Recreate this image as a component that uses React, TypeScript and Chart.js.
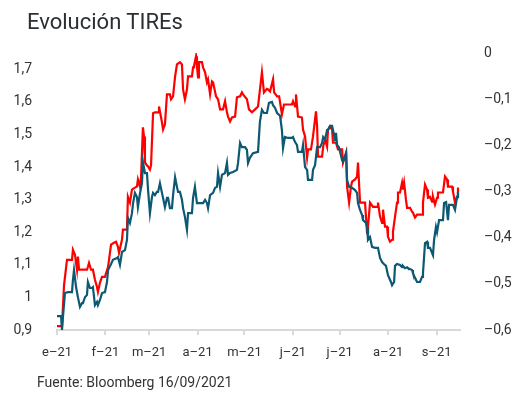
import React, { useEffect, useRef } from "react";
import { Chart, registerables } from "chart.js";

Chart.register(...registerables);

const monthStarts = [0, 31, 59, 90, 120, 151, 181, 212, 243];
const monthLabels = ["e–21", "f–21", "m–21", "a–21", "m–21", "j–21", "j–21", "a–21", "s–21"];
const leftTicks = [0.9, 1.0, 1.1, 1.2, 1.3, 1.4, 1.5, 1.6, 1.7];
const rightTicks = [-0.6, -0.5, -0.4, -0.3, -0.2, -0.1, 0];

// US 10y (left axis), day of year 2021
const redDays = [0,3.2,4.5,6.4,9.6,10.2,11.5,12.8,13.4,14.1,19.2,19.8,20.5,21.8,23.0,24.3,25.6,26.2,27.5,28.8,30.7,32.7,34.6,36.5,37.8,39.0,39.7,41.6,42.2,44.8,45.4,46.7,48.0,49.9,51.2,51.8,53.1,53.8,55.0,55.7,56.3,57.6,58.3,59.5,60.2,61.5,62.7,64.7,65.3,67.2,67.9,69.1,70.4,72.3,73.0,74.3,75.6,76.8,78.7,80.0,80.7,81.9,83.2,83.9,86.4,87.1,87.7,89.0,89.6,90.3,90.9,92.8,93.5,94.8,96.0,96.7,98.0,99.2,99.9,101.8,103.1,104.4,106.3,107.6,108.8,109.5,110.8,112.0,114.0,115.2,117.2,118.4,119.1,121.6,122.9,124.8,126.8,128.7,131.2,132.5,134.4,135.1,136.4,138.3,139.0,140.9,142.2,144.0,145.3,147.2,150.4,151.1,152.4,153.0,154.3,156.8,157.5,158.8,160.1,160.7,162.6,163.9,164.5,165.8,166.5,167.1,169.7,170.4,171.6,172.9,173.5,174.8,176.1,176.7,178.6,179.9,182.5,183.1,185.1,185.7,187.0,188.2,188.9,190.8,192.1,192.7,194.0,197.2,198.5,199.1,200.4,202.3,204.9,205.5,206.8,208.1,208.7,210.0,211.3,211.9,213.2,214.5,215.1,216.4,217.7,218.3,219.6,220.9,221.5,222.2,223.4,224.1,226.0,227.3,227.9,229.2,230.5,233.7,234.3,235.6,236.9,237.5,238.8,240.1,240.7,242.0,243.3,243.9,247.1,248.4,249.7,250.3,252.9,253.5,254.8,256.1,256.7];
const redValues = [0.912,0.912,1.038,1.115,1.115,1.146,1.131,1.085,1.125,1.085,1.085,1.094,1.106,1.085,1.085,1.054,1.032,1.017,1.045,1.063,1.063,1.094,1.162,1.168,1.171,1.155,1.137,1.177,1.208,1.208,1.309,1.291,1.331,1.337,1.340,1.362,1.340,1.368,1.522,1.494,1.414,1.405,1.402,1.392,1.405,1.565,1.568,1.568,1.586,1.537,1.515,1.531,1.623,1.623,1.608,1.617,1.678,1.715,1.722,1.715,1.638,1.608,1.638,1.678,1.678,1.706,1.709,1.740,1.709,1.675,1.722,1.722,1.706,1.691,1.660,1.669,1.623,1.663,1.660,1.617,1.608,1.577,1.577,1.602,1.568,1.555,1.540,1.552,1.555,1.614,1.617,1.629,1.623,1.608,1.577,1.568,1.577,1.586,1.691,1.629,1.640,1.638,1.632,1.669,1.629,1.617,1.617,1.562,1.592,1.592,1.592,1.602,1.586,1.623,1.555,1.552,1.515,1.494,1.429,1.454,1.454,1.494,1.494,1.571,1.525,1.432,1.432,1.463,1.485,1.463,1.515,1.525,1.515,1.475,1.475,1.454,1.454,1.414,1.445,1.340,1.291,1.340,1.355,1.362,1.371,1.414,1.291,1.291,1.198,1.217,1.291,1.278,1.278,1.291,1.248,1.229,1.269,1.217,1.217,1.186,1.171,1.177,1.202,1.248,1.291,1.322,1.322,1.352,1.331,1.352,1.300,1.275,1.275,1.263,1.260,1.245,1.254,1.254,1.291,1.346,1.331,1.306,1.309,1.294,1.309,1.285,1.306,1.322,1.322,1.371,1.362,1.340,1.340,1.325,1.291,1.309,1.337];

// Bund 10y (right axis)
const blueDays = [0,2.6,3.2,3.8,5.1,7.0,9.6,10.2,10.9,12.2,13.4,14.7,16.0,16.6,17.9,19.2,19.8,21.1,22.4,23.0,24.3,25.6,26.2,27.5,28.8,30.7,32.0,32.7,34.6,35.8,38.4,39.0,40.3,41.6,43.5,44.8,45.4,46.7,48.0,48.7,49.9,51.2,51.8,53.1,54.4,55.0,56.3,57.6,58.3,59.5,60.8,61.5,62.7,64.0,64.7,65.9,67.2,67.9,69.1,70.4,71.1,72.3,73.6,74.3,75.6,76.8,77.5,78.7,80.0,80.7,81.9,83.2,83.9,86.4,87.1,88.3,89.6,93.5,94.8,96.0,96.7,98.0,99.9,101.2,102.4,103.1,104.4,105.6,107.6,108.8,109.5,110.8,112.7,115.2,115.9,117.2,118.4,120.4,121.6,122.3,123.5,125.5,128.7,129.9,131.2,132.5,134.4,135.7,137.6,138.3,139.6,140.9,142.8,144.0,144.7,145.9,147.9,150.4,151.1,152.4,153.6,154.3,156.8,157.5,158.8,160.1,160.7,163.3,163.9,165.2,166.5,168.4,169.7,170.4,171.6,172.9,173.5,174.8,176.1,176.7,178.0,178.6,179.3,180.5,182.5,183.1,184.4,185.1,185.7,187.0,188.9,190.8,192.1,192.7,194.0,195.3,195.9,197.8,198.5,199.1,200.4,201.7,203.6,205.5,206.8,208.1,209.3,210.6,211.9,213.8,214.5,215.8,216.4,217.7,219.6,220.9,221.5,222.8,224.1,224.7,227.3,227.9,229.2,230.5,232.4,233.7,234.3,235.6,236.9,237.5,238.8,240.7,241.4,242.6,243.3,244.6,247.1,247.8,249.1,250.3,251.0,253.5,254.8,256.1,256.7];
const blueValues = [-0.570,-0.570,-0.600,-0.572,-0.520,-0.518,-0.518,-0.492,-0.470,-0.507,-0.529,-0.550,-0.542,-0.542,-0.529,-0.524,-0.496,-0.509,-0.509,-0.507,-0.546,-0.539,-0.546,-0.535,-0.520,-0.518,-0.496,-0.470,-0.457,-0.448,-0.444,-0.442,-0.459,-0.431,-0.427,-0.405,-0.357,-0.368,-0.347,-0.325,-0.303,-0.312,-0.334,-0.305,-0.282,-0.236,-0.260,-0.260,-0.297,-0.347,-0.312,-0.303,-0.308,-0.301,-0.301,-0.282,-0.303,-0.314,-0.334,-0.314,-0.314,-0.336,-0.336,-0.308,-0.269,-0.290,-0.301,-0.301,-0.318,-0.336,-0.355,-0.383,-0.347,-0.347,-0.314,-0.290,-0.325,-0.325,-0.318,-0.325,-0.336,-0.308,-0.303,-0.292,-0.290,-0.260,-0.290,-0.264,-0.260,-0.238,-0.264,-0.260,-0.258,-0.253,-0.238,-0.195,-0.204,-0.204,-0.210,-0.238,-0.227,-0.217,-0.214,-0.149,-0.123,-0.130,-0.130,-0.108,-0.106,-0.113,-0.119,-0.130,-0.136,-0.167,-0.206,-0.182,-0.184,-0.184,-0.182,-0.193,-0.199,-0.214,-0.214,-0.199,-0.247,-0.253,-0.275,-0.275,-0.253,-0.243,-0.204,-0.204,-0.195,-0.182,-0.188,-0.167,-0.167,-0.158,-0.158,-0.167,-0.188,-0.173,-0.199,-0.204,-0.232,-0.236,-0.225,-0.217,-0.275,-0.290,-0.292,-0.297,-0.303,-0.325,-0.340,-0.351,-0.362,-0.368,-0.377,-0.405,-0.399,-0.420,-0.422,-0.422,-0.444,-0.453,-0.457,-0.461,-0.481,-0.496,-0.503,-0.496,-0.461,-0.457,-0.459,-0.464,-0.461,-0.466,-0.464,-0.466,-0.470,-0.477,-0.487,-0.496,-0.496,-0.485,-0.477,-0.412,-0.409,-0.422,-0.422,-0.438,-0.405,-0.377,-0.388,-0.362,-0.362,-0.325,-0.323,-0.362,-0.329,-0.329,-0.340,-0.312,-0.301];

const FONT = "Roboto, 'Noto Sans', sans-serif";
const TEXT = "#333333";

function fmt(v: number): string {
  const r = Math.round(v * 10) / 10;
  if (r === 0) return "0";
  const s = Math.abs(r).toString().replace(".", ",");
  return r < 0 ? "–" + s : s;
}

export default function App() {
  const ref = useRef<HTMLCanvasElement | null>(null);
  useEffect(() => {
    if (!ref.current) return;
    const chart = new Chart(ref.current, {
      type: "line",
      data: {
        datasets: [
          {
            label: "Bund",
            data: blueDays.map((d, i) => ({ x: d, y: blueValues[i] })),
            yAxisID: "y1",
            borderColor: "#0d5872",
            borderWidth: 2.2,
            pointRadius: 0,
            tension: 0,
            fill: false,
          },
          {
            label: "US",
            data: redDays.map((d, i) => ({ x: d, y: redValues[i] })),
            yAxisID: "y",
            borderColor: "#ff0000",
            borderWidth: 2.2,
            pointRadius: 0,
            tension: 0,
            fill: false,
          },
        ],
      },
      options: {
        responsive: false,
        animation: false,
        layout: { padding: { top: 53, bottom: 39, left: 0, right: 0 } },
        plugins: { legend: { display: false }, tooltip: { enabled: false } },
        scales: {
          x: {
            type: "linear",
            min: 0,
            max: 258,
            afterBuildTicks: (axis: any) => {
              axis.ticks = monthStarts.map((v) => ({ value: v }));
            },
            afterFit: (axis: any) => {
              axis.height = 30;
            },
            ticks: {
              autoSkip: false,
              maxRotation: 0,
              padding: 10,
              color: TEXT,
              font: { family: FONT, size: 13 },
              callback: (_v: any, i: number) => monthLabels[i],
            },
            grid: {
              drawOnChartArea: false,
              drawTicks: true,
              tickLength: 5,
              color: "#d9d9d9",
              lineWidth: 2,
            },
            border: { display: true, color: "#d9d9d9", width: 2 },
          },
          y: {
            type: "linear",
            position: "left",
            min: 0.9,
            max: 1.75,
            afterBuildTicks: (axis: any) => {
              axis.ticks = leftTicks.map((v) => ({ value: v }));
            },
            afterFit: (axis: any) => {
              axis.width = 57;
            },
            ticks: {
              padding: 17,
              color: TEXT,
              font: { family: FONT, size: 14 },
              callback: (v: any) => fmt(Number(v)),
            },
            grid: { display: false },
            border: { display: false },
          },
          y1: {
            type: "linear",
            position: "right",
            min: -0.6,
            max: 0,
            afterBuildTicks: (axis: any) => {
              axis.ticks = rightTicks.map((v) => ({ value: v }));
            },
            afterFit: (axis: any) => {
              axis.width = 55;
            },
            ticks: {
              padding: 16,
              color: TEXT,
              font: { family: FONT, size: 14 },
              callback: (v: any) => fmt(Number(v)),
            },
            grid: { display: false },
            border: { display: false },
          },
        },
      },
    });
    return () => chart.destroy();
  }, []);

  return (
    <div style={{ position: "absolute", left: 0, top: 0, width: 515, height: 399, background: "#fff" }}>
      <canvas ref={ref} width={515} height={399} style={{ position: "absolute", left: 0, top: 0 }} />
      <div
        style={{
          position: "absolute",
          left: 27,
          top: 10.5,
          fontFamily: FONT,
          fontSize: 22,
          lineHeight: "22px",
          color: "#2b2f33",
          whiteSpace: "nowrap",
        }}
      >
        Evolución TIREs
      </div>
      <div
        style={{
          position: "absolute",
          left: 37,
          top: 374.7,
          fontFamily: FONT,
          fontSize: 14,
          lineHeight: "14px",
          color: TEXT,
          whiteSpace: "nowrap",
        }}
      >
        Fuente: Bloomberg 16/09/2021
      </div>
    </div>
  );
}
